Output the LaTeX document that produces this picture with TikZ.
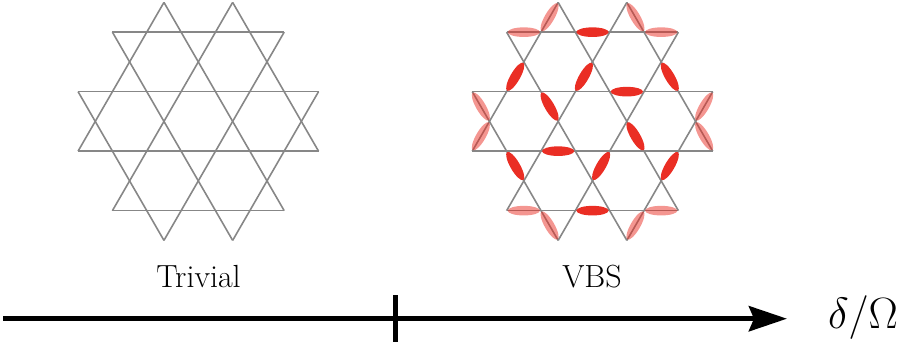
\documentclass[tikz,border=0pt]{standalone}
\usepackage{fontspec}
\usepackage{graphicx}
\usetikzlibrary{arrows.meta}
\definecolor{latgray}{RGB}{135,135,135}
\definecolor{dimred}{RGB}{234,46,36}
\tikzset{
  bond/.style={draw=latgray, line width=1.6pt},
  dimsolid/.style={fill=dimred},
  dimfaint/.style={fill=dimred, fill opacity=0.5},
  axisline/.style={line width=5.5pt, black},
  lbl/.style={font=\fontsize{32}{38}\selectfont, inner sep=0pt, anchor=base},
}
\newcommand{\kagomepatch}{%
  \foreach \r in {0,60,120}{%
    \begin{scope}[rotate=\r]
      \draw[bond] (-3.5,0.8660) -- (3.5,0.8660);
      \draw[bond] (-3.5,-0.8660) -- (3.5,-0.8660);
      \draw[bond] (-2.5,2.5981) -- (2.5,2.5981);
      \draw[bond] (-2.5,-2.5981) -- (2.5,-2.5981);
    \end{scope}}}
\newcommand{\dimerat}[4]{\fill[#4, rotate around={#3:(#1,#2)}] (#1,#2) ellipse (0.47 and 0.14);}
\begin{document}
\begin{tikzpicture}[x=1pt,y=1pt]
\useasboundingbox (0,0) rectangle (901,341);
% left lattice: trivial
\begin{scope}[shift={(198.3,219.6)}, x=34.35pt, y=34.35pt]
  \kagomepatch
\end{scope}
% right lattice: VBS
\begin{scope}[shift={(592.5,219.6)}, x=34.35pt, y=34.35pt]
  \kagomepatch
  % solid dimers
  \dimerat{0}{2.5981}{0}{dimsolid}
  \dimerat{-2.25}{1.2990}{60}{dimsolid}
  \dimerat{-0.25}{1.2990}{60}{dimsolid}
  \dimerat{2.25}{1.2990}{-60}{dimsolid}
  \dimerat{1}{0.8660}{0}{dimsolid}
  \dimerat{-1.25}{0.4330}{-60}{dimsolid}
  \dimerat{1.25}{-0.4330}{-60}{dimsolid}
  \dimerat{-1}{-0.8660}{0}{dimsolid}
  \dimerat{-2.25}{-1.2990}{-60}{dimsolid}
  \dimerat{0.25}{-1.2990}{60}{dimsolid}
  \dimerat{2.25}{-1.2990}{60}{dimsolid}
  \dimerat{0}{-2.5981}{0}{dimsolid}
  % faint boundary dimers
  \dimerat{-1.25}{3.0311}{60}{dimfaint}
  \dimerat{-2}{2.5981}{0}{dimfaint}
  \dimerat{1.25}{3.0311}{-60}{dimfaint}
  \dimerat{2}{2.5981}{0}{dimfaint}
  \dimerat{-3.25}{0.4330}{-60}{dimfaint}
  \dimerat{-3.25}{-0.4330}{60}{dimfaint}
  \dimerat{3.25}{0.4330}{60}{dimfaint}
  \dimerat{3.25}{-0.4330}{-60}{dimfaint}
  \dimerat{-2}{-2.5981}{0}{dimfaint}
  \dimerat{-1.25}{-3.0311}{-60}{dimfaint}
  \dimerat{2}{-2.5981}{0}{dimfaint}
  \dimerat{1.25}{-3.0311}{60}{dimfaint}
\end{scope}
% labels
\node[lbl] (trivial) at (198.5,53.7) {Trivial};
\node[lbl] (vbs) at (592,53.7) {VBS};
% axis
\coordinate (axstart) at (3,22.3);
\coordinate (axtip) at (787,22.3);
\coordinate (ticktop) at (395.3,46);
\coordinate (tickbot) at (395.3,-2);
\draw[axisline, -{Stealth[length=38pt,width=25pt,inset=5pt]}] (axstart) -- (axtip);
\draw[axisline] (tickbot) -- (ticktop);
\node[inner sep=0pt, anchor=base] (axlabel) at (863,12.5) {\scalebox{1.76}{\Huge$\delta/\Omega$}};
\end{tikzpicture}
\end{document}
